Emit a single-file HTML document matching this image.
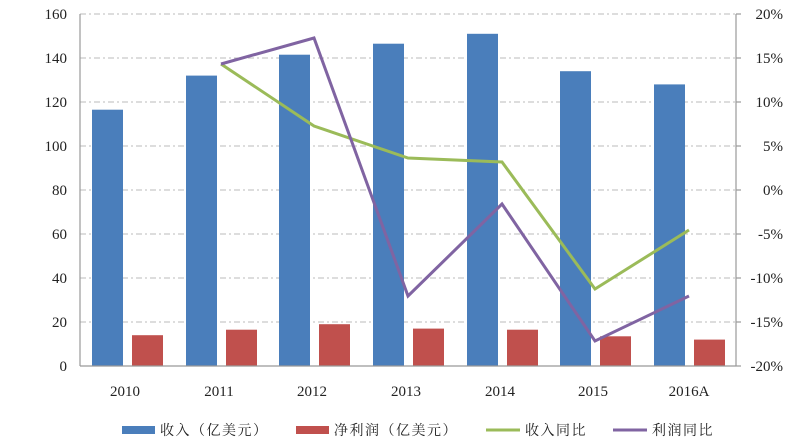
<!DOCTYPE html><html><head><meta charset="utf-8"><style>body{margin:0;background:#fff}svg{display:block}text{font-family:"Liberation Serif","Noto Serif CJK SC",serif;font-size:15px;fill:#222}.lg{font-size:14px;letter-spacing:1.5px}</style></head><body>
<svg width="794" height="445" viewBox="0 0 794 445">
<g stroke="#bbb" stroke-dasharray="6,3,2,3" stroke-width="1">
<line x1="80" x2="736" y1="14" y2="14"/><line x1="80" x2="736" y1="58" y2="58"/><line x1="80" x2="736" y1="102" y2="102"/><line x1="80" x2="736" y1="146" y2="146"/><line x1="80" x2="736" y1="190" y2="190"/><line x1="80" x2="736" y1="234" y2="234"/><line x1="80" x2="736" y1="278" y2="278"/><line x1="80" x2="736" y1="322" y2="322"/>
</g>
<g fill="#4a7ebb">
<rect x="92" y="109.7" width="31" height="256.3"/><rect x="186" y="75.6" width="31" height="290.4"/><rect x="279" y="54.7" width="31" height="311.3"/><rect x="373" y="43.7" width="31" height="322.3"/><rect x="467" y="33.8" width="31" height="332.2"/><rect x="560" y="71.2" width="31" height="294.8"/><rect x="654" y="84.4" width="31" height="281.6"/>
</g>
<g fill="#c0504d">
<rect x="132" y="335.2" width="31" height="30.8"/><rect x="226" y="329.7" width="31" height="36.3"/><rect x="319" y="324.2" width="31" height="41.8"/><rect x="413" y="328.6" width="31" height="37.4"/><rect x="507" y="329.7" width="31" height="36.3"/><rect x="600" y="336.3" width="31" height="29.7"/><rect x="694" y="339.6" width="31" height="26.4"/>
</g>
<g stroke="#999" stroke-width="1.2"><line x1="80" y1="14" x2="80" y2="366"/><line x1="736" y1="14" x2="736" y2="366"/><line x1="80" y1="366" x2="736" y2="366"/>
<line x1="736" x2="741" y1="14" y2="14"/><line x1="736" x2="741" y1="58" y2="58"/><line x1="736" x2="741" y1="102" y2="102"/><line x1="736" x2="741" y1="146" y2="146"/><line x1="736" x2="741" y1="190" y2="190"/><line x1="736" x2="741" y1="234" y2="234"/><line x1="736" x2="741" y1="278" y2="278"/><line x1="736" x2="741" y1="322" y2="322"/><line x1="736" x2="741" y1="366" y2="366"/></g>
<polyline fill="none" stroke="#9bbb59" stroke-width="3" points="221,64 314,126 408,158 502,162 595,289 689,230"/>
<polyline fill="none" stroke="#8064a2" stroke-width="3" points="221,64 314,38 408,296 502,204 595,341 689,296"/>
<g text-anchor="end"><text x="67" y="19">160</text><text x="67" y="63">140</text><text x="67" y="107">120</text><text x="67" y="151">100</text><text x="67" y="195">80</text><text x="67" y="239">60</text><text x="67" y="283">40</text><text x="67" y="327">20</text><text x="67" y="371">0</text></g>
<g text-anchor="end"><text x="783" y="19">20%</text><text x="783" y="63">15%</text><text x="783" y="107">10%</text><text x="783" y="151">5%</text><text x="783" y="195">0%</text><text x="783" y="239">-5%</text><text x="783" y="283">-10%</text><text x="783" y="327">-15%</text><text x="783" y="371">-20%</text></g>
<g text-anchor="middle"><text x="125" y="396">2010</text><text x="219" y="396">2011</text><text x="312" y="396">2012</text><text x="406" y="396">2013</text><text x="500" y="396">2014</text><text x="593" y="396">2015</text><text x="689" y="396">2016A</text></g>
<rect x="122" y="426" width="33" height="8" fill="#4a7ebb"/><text class="lg" x="160" y="435">收入（亿美元）</text>
<rect x="296" y="426" width="33" height="8" fill="#c0504d"/><text class="lg" x="334" y="435">净利润（亿美元）</text>
<line x1="486" x2="520" y1="430" y2="430" stroke="#9bbb59" stroke-width="3"/><text class="lg" x="525" y="435">收入同比</text>
<line x1="613" x2="647" y1="430" y2="430" stroke="#8064a2" stroke-width="3"/><text class="lg" x="652" y="435">利润同比</text>
</svg></body></html>
